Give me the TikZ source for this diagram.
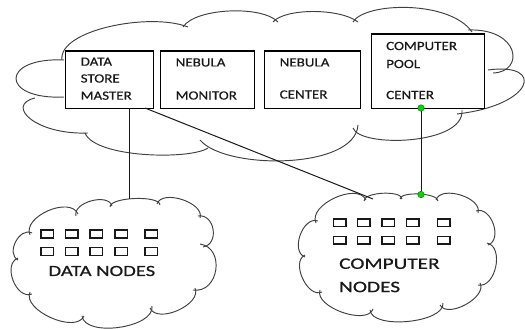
\documentclass[tikz,border=0pt]{standalone}
\usepackage{fontspec}
\setmainfont{Carlito}[FakeStretch=1.2, FakeBold=0.4]
\newfontfamily\cloudfont{Carlito}[FakeStretch=1.33, FakeBold=0.8]
\usetikzlibrary{calc}
\newcommand\lobe[3]{.. controls ($#1!#3!90:#2$) and ($#2!#3!-90:#1$) .. #2}
\tikzset{
  cloudline/.style={draw=black!75, line width=0.95pt},
  boxnode/.style={draw=black, line width=1.1pt, fill=white, rectangle, inner sep=0pt, anchor=north west},
  boxtext/.style={anchor=west, inner sep=0pt, text=black!90, font=\fontsize{12.5}{14}\selectfont},
  cloudtext/.style={anchor=west, inner sep=0pt, text=black!90, font=\cloudfont\fontsize{15.5}{17}\selectfont},
  sq/.style={draw=black!90, line width=1.15pt},
  link/.style={draw=black!90, line width=1pt},
  gdot/.style={circle, fill=green!85!black, draw=green!40!black, line width=0.4pt, minimum size=6.5pt, inner sep=0pt}
}
\begin{document}
\begin{tikzpicture}[x=1pt,y=-1pt]
\useasboundingbox (0,0) rectangle (525,329);
% ---- big cloud ----
\draw[cloudline] (62,60) .. controls (58,30) and (150,12) .. (188,27);
\draw[cloudline] (183,27) .. controls (195,8) and (262,5) .. (278,22);
\draw[cloudline] (273,22) .. controls (285,8) and (340,8) .. (358,22);
\draw[cloudline] (353,22) .. controls (365,2) and (450,0) .. (472,32);
\draw[cloudline] (468,30) .. controls (520,28) and (525,72) .. (493,73);
\draw[cloudline] (488,70) .. controls (545,62) and (535,105) .. (457,114);
\draw[cloudline] (462,110) .. controls (465,145) and (360,148) .. (353,128);
\draw[cloudline] (358,125) .. controls (355,170) and (225,170) .. (200,140);
\draw[cloudline] (208,148) .. controls (190,160) and (95,158) .. (85,133);
\draw[cloudline] (88,133) .. controls (35,135) and (5,105) .. (35,98);
\draw[cloudline] (64,97) .. controls (0,100) and (0,57) .. (64,60);
% ---- boxes ----
\node[boxnode, minimum width=88pt, minimum height=57.5pt] (b1) at (65,50.5) {};
\node[boxnode, minimum width=94.5pt, minimum height=57.5pt] (b2) at (159.5,50.5) {};
\node[boxnode, minimum width=96pt, minimum height=57.5pt] (b3) at (263.5,50.5) {};
\node[boxnode, minimum width=113pt, minimum height=74.5pt] (b4) at (371,33.5) {};
\node[boxtext] (t1a) at (80.5,61.7) {DATA};
\node[boxtext] (t1b) at (80.5,78.5) {STORE};
\node[boxtext] (t1c) at (80.5,95.7) {MASTER};
\node[boxtext] (t2a) at (175.5,62.5) {NEBULA};
\node[boxtext] (t2b) at (175.5,95.5) {MONITOR};
\node[boxtext] (t3a) at (279.5,62.5) {NEBULA};
\node[boxtext] (t3b) at (279.5,94.5) {CENTER};
\node[boxtext] (t4a) at (386,46) {COMPUTER};
\node[boxtext] (t4b) at (386,64) {POOL};
\node[boxtext] (t4c) at (386,95) {CENTER};
% ---- data nodes cloud ----
\draw[cloudline] (30,235) \lobe{(30,235)}{(78,214)}{20pt};
\draw[cloudline] (76,216) \lobe{(76,216)}{(112,206)}{14pt};
\draw[cloudline] (110,207) \lobe{(110,207)}{(160,205)}{10pt};
\draw[cloudline] (157,204) \lobe{(157,204)}{(200,218)}{16pt};
\draw[cloudline] (198,216) \lobe{(198,216)}{(203,247)}{17pt};
\draw[cloudline] (200,244) \lobe{(200,244)}{(193,290)}{26pt};
\draw[cloudline] (195,288) \lobe{(195,288)}{(150,308)}{18pt};
\draw[cloudline] (152,306) \lobe{(152,306)}{(82,316)}{22pt};
\draw[cloudline] (84,316) \lobe{(84,316)}{(30,292)}{20pt};
\draw[cloudline] (32,294) \lobe{(32,294)}{(18,258)}{17pt};
\draw[cloudline] (18,260) \lobe{(18,260)}{(32,233)}{14pt};
\foreach \x in {41,65.5,90,115,145}{
  \draw[sq] (\x,230) rectangle ++(12.5,8);
  \draw[sq] (\x,247.5) rectangle ++(12.5,8);
}
\node[cloudtext] (dn) at (48.3,271) {DATA NODES};
% ---- computer nodes cloud ----
\draw[cloudline] (316,223) \lobe{(316,223)}{(366,200)}{20pt};
\draw[cloudline] (364,201) \lobe{(364,201)}{(402,199)}{9pt};
\draw[cloudline] (400,199) \lobe{(400,199)}{(438,201)}{8pt};
\draw[cloudline] (436,200) \lobe{(436,200)}{(478,213)}{16pt};
\draw[cloudline] (476,211) \lobe{(476,211)}{(488,245)}{16pt};
\draw[cloudline] (487,243) \lobe{(487,243)}{(478,285)}{18pt};
\draw[cloudline] (480,283) \lobe{(480,283)}{(440,305)}{16pt};
\draw[cloudline] (443,303) \lobe{(443,303)}{(370,310)}{20pt};
\draw[cloudline] (373,309) \lobe{(373,309)}{(320,290)}{18pt};
\draw[cloudline] (322,292) \lobe{(322,292)}{(305,255)}{16pt};
\draw[cloudline] (305,257) \lobe{(305,257)}{(318,221)}{16pt};
\foreach \x in {333.5,357.5,382,406.5,437.5}{
  \draw[sq] (\x,219) rectangle ++(12.5,7.5);
  \draw[sq] (\x,236.5) rectangle ++(12.5,7.5);
}
\node[cloudtext, font=\cloudfont\fontsize{16}{18}\selectfont] (cn1) at (339,263.7) {COMPUTER};
\node[cloudtext, font=\cloudfont\fontsize{16}{18}\selectfont] (cn2) at (339,287) {NODES};
% ---- connectors ----
\coordinate (dtop) at (129,199);
\coordinate (b1out) at (129,108);
\coordinate (b1diag) at (145,108);
\coordinate (ctopl) at (373,199);
\node[gdot] (g1) at (421,108) {};
\node[gdot] (g2) at (421,194.5) {};
\draw[link] (b1out) -- (dtop);
\draw[link] (b1diag) -- (ctopl);
\draw[link] (g1) -- (g2);
\end{tikzpicture}
\end{document}
